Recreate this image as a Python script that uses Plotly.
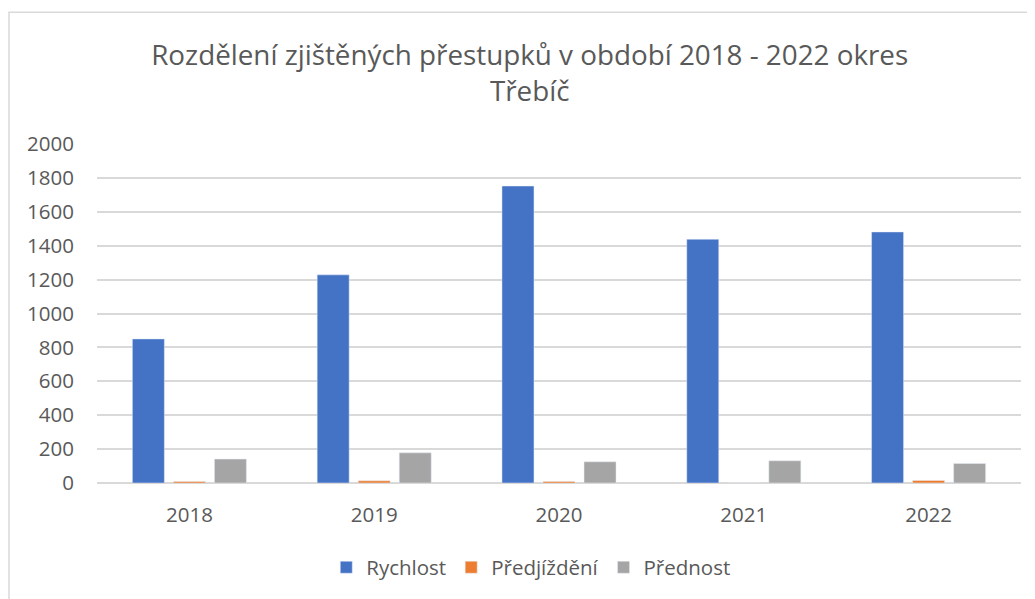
import plotly.graph_objects as go

years = ["2018", "2019", "2020", "2021", "2022"]
rychlost = [850, 1228, 1752, 1438, 1481]
predjizdeni = [9, 13, 9, 0, 15]
prednost = [141, 178, 125, 131, 115]

title_text = "Rozdělení zjištěných přestupků v období 2018 - 2022 okres<br>Třebíč"
y_ticks = [0, 200, 400, 600, 800, 1000, 1200, 1400, 1600, 1800, 2000]

FONT = "Open Sans"
GREY = "#595959"

# page body has an 8px margin, so the figure is shifted by (8, 8)
W, H = 1027, 591
L, R, T, B = 89, 14, 136, 115.5
pw, ph = W - L - R, H - T - B

fig = go.Figure()
fig.add_trace(go.Bar(name="Rychlost", x=years, y=rychlost, marker_color="#4472C4"))
fig.add_trace(go.Bar(name="Předjíždění", x=years, y=predjizdeni, marker_color="#ED7D31"))
fig.add_trace(go.Bar(name="Přednost", x=years, y=prednost, marker_color="#A5A5A5"))

# outer chart frame (only left/top edges visible in the reference)
fx0, fy0 = 1, 4
fig.add_shape(type="rect", xref="paper", yref="paper",
              x0=(fx0 - L) / pw, x1=(W + 30 - L) / pw,
              y0=(H - B - (H + 30)) / ph, y1=(H - B - fy0) / ph,
              line=dict(color="#D9D9D9", width=1.5), fillcolor="rgba(0,0,0,0)", layer="below")

fig.update_layout(
    width=W, height=H,
    margin=dict(l=L, r=R, t=T, b=B, autoexpand=False),
    paper_bgcolor="white", plot_bgcolor="white",
    barmode="group", bargap=0.334, bargroupgap=0.22,
    title=dict(text=title_text, x=0.508, xanchor="center", y=0.903, yanchor="top",
               font=dict(family=FONT, size=27.8, color=GREY)),
    font=dict(family=FONT, color=GREY),
    xaxis=dict(showgrid=False, showline=False, ticks="", ticklabelstandoff=17,
               tickfont=dict(family=FONT, size=20.5, color=GREY)),
    yaxis=dict(range=[0, 2000], tickvals=y_ticks, showgrid=True, gridcolor="#D9D9D9",
               gridwidth=1.5, zeroline=True, zerolinecolor="#D9D9D9", zerolinewidth=1.5,
               showline=False, ticks="", ticklabelstandoff=22,
               tickfont=dict(family=FONT, size=20.5, color=GREY)),
    legend=dict(orientation="h", x=0.47, xanchor="center", y=-0.249, yanchor="middle",
                font=dict(family=FONT, size=20.5, color=GREY), itemwidth=30,
                traceorder="normal"),
)

fig.write_html("out.html")
